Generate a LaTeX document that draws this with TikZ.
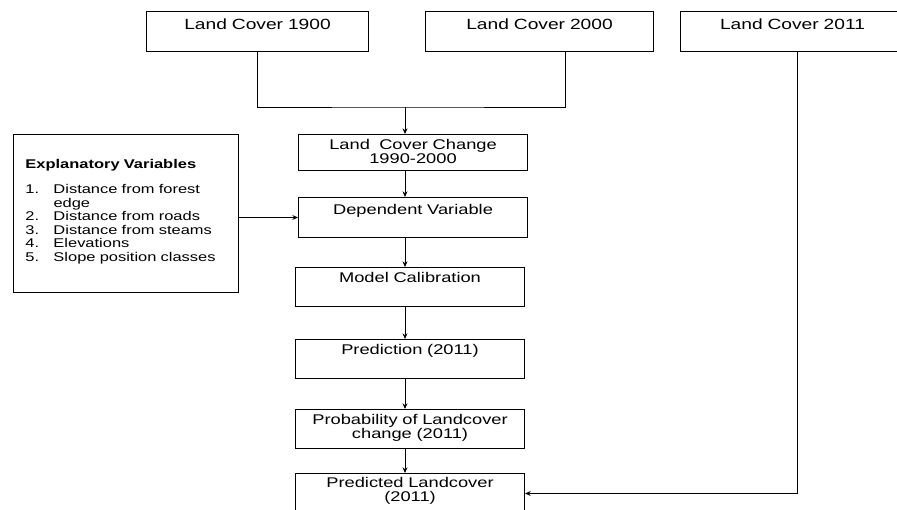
\documentclass[tikz,border=0pt]{standalone}
\usepackage{fontspec}
\setmainfont{Liberation Sans}[FakeStretch=1.3]
\usetikzlibrary{arrows.meta}

\begin{document}
\begin{tikzpicture}[x=0.025cm,y=-0.025cm,>={Stealth[length=4pt,width=3.5pt]}]
    \tikzset{
        box/.style={
            draw,line width=0.7pt,anchor=north west,
            inner sep=0pt,align=center,
            font=\fontsize{10}{10}\selectfont
        },
        topbox/.style={box,font=\fontsize{10.5}{12}\selectfont,
            text height=0.44cm,text depth=0.56cm},
        stepbox/.style={box,text width=5.725cm,
            text height=0.375cm,text depth=0.6cm},
        link/.style={line width=0.7pt},
        flow/.style={->,line width=0.7pt}
    }
    \clip (0,0) rectangle (897,510);

    \node[topbox,text width=5.55cm] (lc1900) at (146,11) {Land Cover 1900};
    \node[topbox,text width=5.7cm] (lc2000) at (425,11) {Land Cover 2000};
    \node[topbox,text width=5.6cm] (lc2011) at (680,11) {Land Cover 2011};

    \node[stepbox,text height=0.38cm,text depth=0.52cm] (lcc) at (298,134)
        {Land\ \ Cover Change\\1990-2000};
    \node[stepbox,text height=0.425cm,text depth=0.575cm] (dv) at (298,197)
        {Dependent Variable};
    \node[stepbox] (calib) at (295,267) {Model Calibration};
    \node[stepbox] (pred) at (295,339) {Prediction (2011)};
    \node[stepbox] (prob) at (295,409)
        {Probability of Landcover\\change (2011)};
    \node[stepbox,text height=0.35cm,text depth=0.65cm] (predicted) at (295,473)
        {Predicted Landcover\\(2011)};

    \node[box,align=left,text width=5.025cm,inner xsep=0.3cm,
        font=\fontsize{9}{9.6}\selectfont,
        text height=0.85cm,text depth=3.1cm] (explan) at (13,134)
        {\textbf{Explanatory Variables}\\[8.2pt]
         \makebox[0.7cm][l]{1.}Distance from forest\\
         \makebox[0.7cm][l]{}edge\\
         \makebox[0.7cm][l]{2.}Distance from roads\\
         \makebox[0.7cm][l]{3.}Distance from steams\\
         \makebox[0.7cm][l]{4.}Elevations\\
         \makebox[0.7cm][l]{5.}Slope position classes};

    \coordinate (join) at (405,107);
    \coordinate (drop2000) at (565,0);
    \coordinate (drop2011) at (797,0);

    \draw[link] (lc1900.south) |- (join) -| (lc2000.south -| drop2000);
    \draw[flow] (join) -- (lcc.north -| join);
    \foreach \a/\b in {lcc/dv,dv/calib,calib/pred,pred/prob,prob/predicted}{
        \draw[flow] (\a.south -| join) -- (\b.north -| join);
    }
    \draw[flow] (explan.east |- dv.west) -- (dv.west);
    \draw[flow] (lc2011.south -| drop2011) |- (predicted.east);
\end{tikzpicture}
\end{document}
